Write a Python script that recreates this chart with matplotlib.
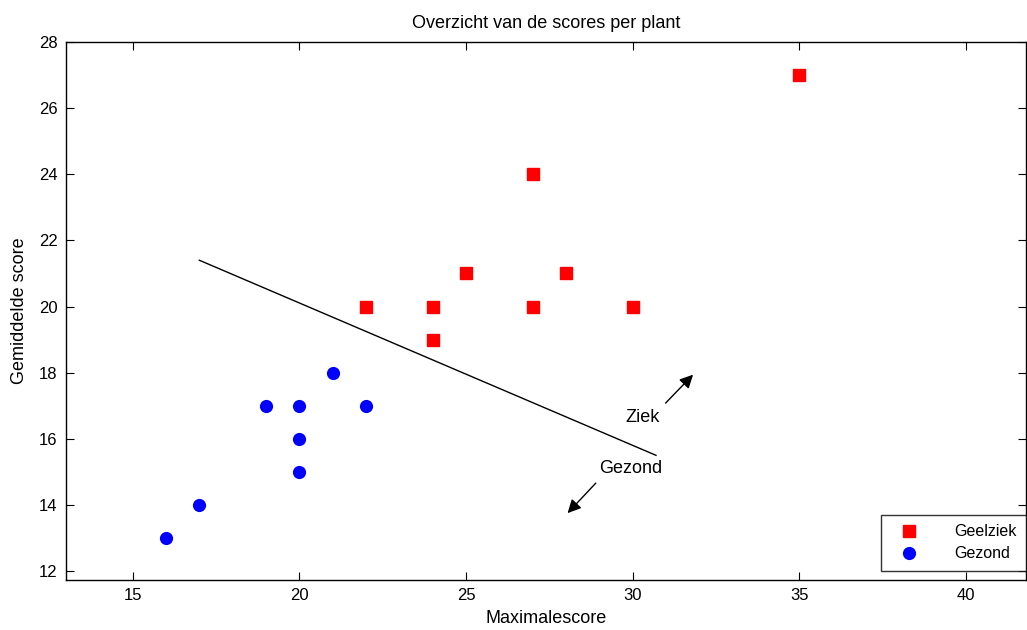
import matplotlib.pyplot as plt

# Geelziek (sick) plants
ziek_max = [22, 24, 24, 25, 27, 27, 28, 30, 35]
ziek_gem = [20, 20, 19, 21, 24, 20, 21, 20, 27]

# Gezond (healthy) plants
gezond_max = [16, 17, 19, 20, 20, 20, 21, 22]
gezond_gem = [13, 14, 17, 17, 16, 15, 18, 17]

# separating line
grens_x = [17.0, 30.7]
grens_y = [21.4, 15.5]

plt.rcParams['font.family'] = ['Liberation Sans', 'DejaVu Sans']

fig = plt.figure(figsize=(10.27, 6.3), dpi=100)
ax = fig.add_axes([0.0643, 0.0794, 0.9347, 0.8539])

ax.plot(ziek_max, ziek_gem, 's', color='#ff0000', markersize=9, label='Geelziek')
ax.plot(gezond_max, gezond_gem, 'o', color='#0000ff', markersize=9.5, markeredgewidth=0, label='Gezond')
ax.plot(grens_x, grens_y, '-', color='black', linewidth=1)

# arrows with labels
ax.annotate('', xy=(31.87, 18.0), xytext=(30.93, 17.02),
            arrowprops=dict(arrowstyle='-|>', color='black', lw=1, mutation_scale=20))
ax.text(30.3, 16.65, 'Ziek', ha='center', va='center', fontsize=13)
ax.annotate('', xy=(27.99, 13.69), xytext=(28.95, 14.72),
            arrowprops=dict(arrowstyle='-|>', color='black', lw=1, mutation_scale=20))
ax.text(29.94, 15.11, 'Gezond', ha='center', va='center', fontsize=13)

ax.set_xlim(13, 41.8)
ax.set_ylim(11.73, 28)
ax.set_xticks([15, 20, 25, 30, 35, 40])
ax.set_yticks([12, 14, 16, 18, 20, 22, 24, 26, 28])
ax.tick_params(direction='in', top=True, right=True, length=6, labelsize=12, pad=6)
for s in ax.spines.values():
    s.set_linewidth(1)

ax.set_title('Overzicht van de scores per plant', fontsize=13, pad=10)
ax.set_xlabel('Maximalescore', fontsize=13, labelpad=5)
ax.set_ylabel('Gemiddelde score', fontsize=13, labelpad=8)

leg = ax.legend(loc='lower right', bbox_to_anchor=(1.0, 0.0167), fontsize=11.5,
                frameon=True, fancybox=False, edgecolor='black', borderaxespad=0,
                handlelength=2.4, handletextpad=1.6, borderpad=0.6, labelspacing=0.45)
leg.get_frame().set_linewidth(1)

fig.savefig('out.png', dpi=100)
